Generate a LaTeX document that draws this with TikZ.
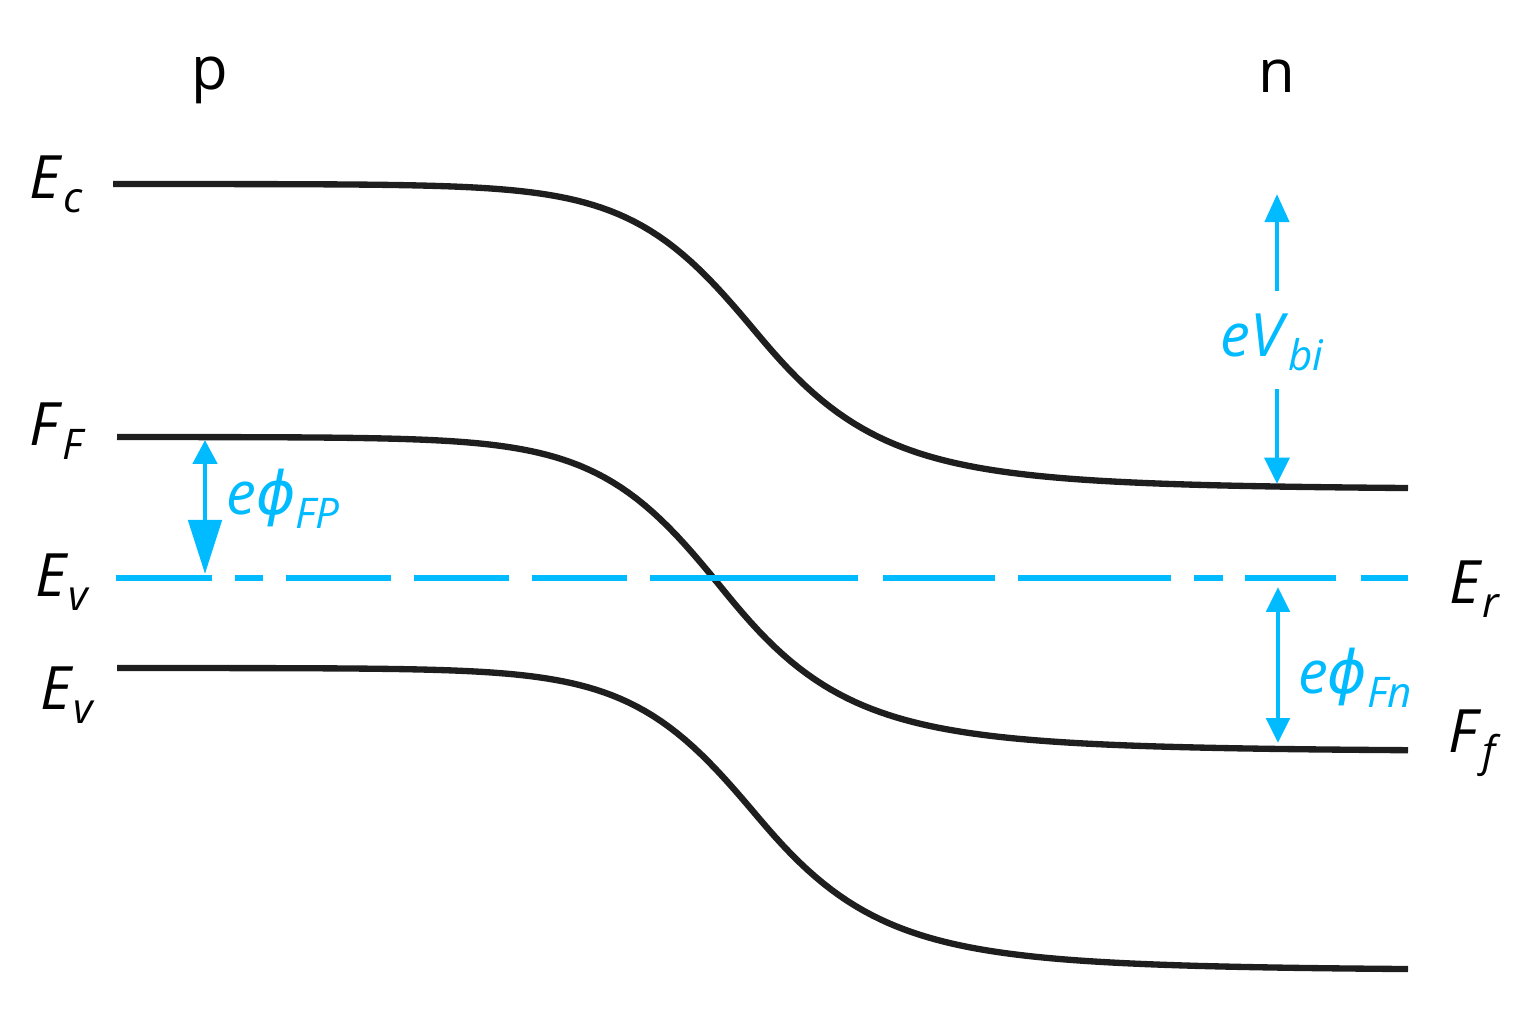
\documentclass[tikz,border=0pt]{standalone}
\usepackage{fontspec}
\setmainfont{Open Sans}
\newfontfamily\phifont{DejaVu Sans}
\usetikzlibrary{arrows.meta}
\definecolor{fermiblue}{RGB}{0,187,255}
\definecolor{bandgray}{RGB}{30,30,30}
\newcommand{\lab}[2]{\textit{#1}\raisebox{-4pt}{\fontsize{12}{12}\selectfont\itshape #2}}
\newcommand{\ephi}{\textit{e}{\phifont\itshape ϕ}}
\tikzset{
  band/.style={bandgray, line width=1.8pt},
  fermi/.style={fermiblue, line width=1.7pt},
  gaparrow/.style={fermiblue, line width=1.4pt},
  lbl/.style={font=\fontsize{17}{17}\selectfont, inner sep=0pt},
  blbl/.style={lbl, text=fermiblue},
}
\begin{document}
\begin{tikzpicture}[x=0.01cm, y=-0.01cm]
	\useasboundingbox (0,0) rectangle (1536,1024);
	% bandes
	\draw[band] plot[domain=113:1408, samples=160] (\x, {184+306*(1+tanh((\x-760)/(128+0.2*max(0,\x-760))))/2});
	\draw[band] plot[domain=117:1408, samples=160] (\x, {437+315*(1+tanh((\x-727)/(128+0.2*max(0,\x-727))))/2});
	\draw[band] plot[domain=117:1408, samples=160] (\x, {668+303*(1+tanh((\x-760)/(128+0.2*max(0,\x-760))))/2});
	% niveau intrinseque
	\foreach \a/\b in {116/212, 235/263, 286/391, 414/509, 532/627, 650/858, 883/995, 1018/1171, 1194/1223, 1245/1336, 1361/1408}
		\draw[fermi] (\a,578) -- (\b,578);
	% labels
	\node[lbl] (p) at (210,80) {p};
	\node[lbl] (n) at (1277,76) {n};
	\node[lbl] (Ec) at (56,184) {\lab{E}{c}};
	\node[lbl] (FF) at (56,431) {\lab{F}{F}};
	\node[lbl] (Ei) at (62,582) {\lab{E}{v}};
	\node[lbl] (Ev) at (67,695) {\lab{E}{v}};
	\node[lbl] (Er) at (1474,589) {\lab{E}{r}};
	\node[lbl] (Ff) at (1472,743) {\lab{F}{f}};
	\node[blbl] (phiFp) at (283,499) {\ephi\raisebox{-4pt}{\fontsize{12}{12}\selectfont\itshape FP}};
	\node[blbl] (Vbi) at (1272,342) {\lab{eV}{bi}};
	\node[blbl] (phiFn) at (1355,678) {\ephi\raisebox{-4pt}{\fontsize{12}{12}\selectfont\itshape Fn}};
	% fleches
	\coordinate (fp top) at (205,440);
	\coordinate (fp bot) at (205,574);
	\coordinate (vbi top) at (1277,194);
	\coordinate (vbi a) at (1277,291);
	\coordinate (vbi b) at (1277,389);
	\coordinate (vbi bot) at (1277,484);
	\coordinate (fn top) at (1278,587);
	\coordinate (fn bot) at (1278,743);
	\draw[gaparrow, {Triangle[length=6.8pt,width=6.8pt]}-{Triangle[length=15.4pt,width=9.4pt]}] (fp top) -- (fp bot);
	\draw[gaparrow, -{Triangle[length=8pt,width=6.8pt]}] (vbi a) -- (vbi top);
	\draw[gaparrow, -{Triangle[length=7.5pt,width=7pt]}] (vbi b) -- (vbi bot);
	\draw[gaparrow, {Triangle[length=7.1pt,width=6.6pt]}-{Triangle[length=7.1pt,width=6.6pt]}] (fn top) -- (fn bot);
\end{tikzpicture}
\end{document}
